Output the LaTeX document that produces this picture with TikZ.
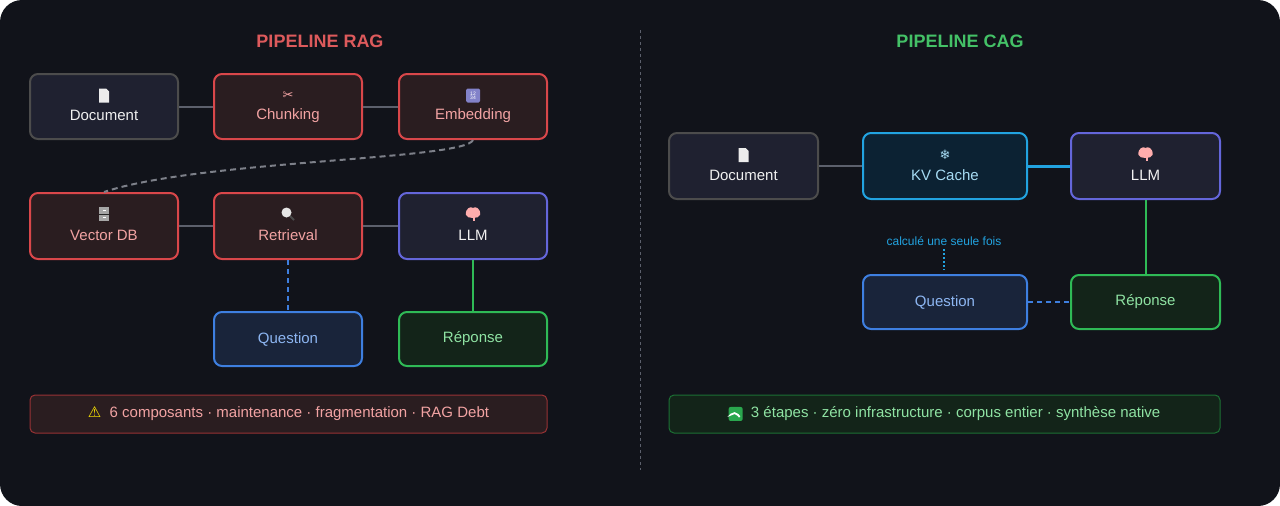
\documentclass[tikz,border=0pt]{standalone}
\usepackage{fontspec}
\setmainfont{Liberation Sans}
\newfontfamily\emo{DejaVu Sans}
\begin{document}
\begin{tikzpicture}[x=1pt,y=-1pt,
  box/.style={draw,rounded corners=8pt,line width=2pt,minimum width=148pt,align=center,font=\fontsize{15}{18}\selectfont},
  gbox/.style={box,draw=gray!60!black,fill=bgn,text=white!88!gray},
  rbox/.style={box,draw=redb,fill=redf,text=redt},
  pbox/.style={box,draw=purb,fill=bgn,text=white!90!gray},
  qbox/.style={box,draw=blub,fill=bluf,text=blut},
  abox/.style={box,draw=grnb,fill=grnf,text=grnt},
  kbox/.style={box,draw=cyab,fill=cyaf,text=cyat},
  link/.style={draw=linkc,line width=2pt},
  ico/.style={font=\emo\fontsize{13}{14}\selectfont},
  pics/idoc/.style={code={\fill[white!85!gray] (-5,-7) -- (2,-7) -- (5,-4) -- (5,7) -- (-5,7) -- cycle;}},
  pics/inum/.style={code={\fill[gray!60!blue!70!white,rounded corners=1.5pt] (-7,-7) rectangle (7,7);
     \node[text=white,font=\fontsize{5}{5}\selectfont,align=center,inner sep=0] at (0,0) {12\\[-1pt]34};}},
  pics/idb/.style={code={\fill[gray!70] (-5,-7) rectangle (5,7);\draw[gray!30!black,line width=0.8pt] (-5,0)--(5,0);
     \fill[white] (-1.5,-4) rectangle (1.5,-3); \fill[white] (-1.5,3) rectangle (1.5,4);}},
  pics/imag/.style={code={\draw[gray!60!black,line width=2pt] (2,2)--(6,6);\fill[white!80!gray] (-1.5,-1.5) circle (5);}},
  pics/ibrain/.style={code={\fill[pink!80!red!80!white] (-7,1) .. controls (-8,-6) and (-2,-8) .. (0,-6) .. controls (2,-8) and (8,-6) .. (7,1) .. controls (6,5) and (-6,5) .. (-7,1);
     \fill[pink!80!red!80!white] (0,3) rectangle (2,7);}},
  pics/icheck/.style={code={\fill[grnb!90!black,rounded corners=2pt] (-7,-7) rectangle (7,7);\draw[white,line width=1.8pt] (-4,0)--(-1,3)--(4,-3);}}]
\definecolor{bg}{HTML}{11131A}\definecolor{bgn}{HTML}{1F2130}
\definecolor{redb}{HTML}{D9474A}\definecolor{redf}{HTML}{2A1D20}\definecolor{redt}{HTML}{F2A3A3}
\definecolor{purb}{HTML}{6466DA}\definecolor{blub}{HTML}{3E7FE0}\definecolor{bluf}{HTML}{19243A}\definecolor{blut}{HTML}{8DB6F2}
\definecolor{grnb}{HTML}{2FBA56}\definecolor{grnf}{HTML}{132419}\definecolor{grnt}{HTML}{8FE3A3}
\definecolor{cyab}{HTML}{22A3E0}\definecolor{cyaf}{HTML}{0C2233}\definecolor{cyat}{HTML}{A6DBF3}
\definecolor{linkc}{HTML}{5C606C}
\fill[white] (0,0) rectangle (1280,506);
\fill[bg,rounded corners=22pt] (0,0) rectangle (1280,506);
\useasboundingbox (0,0) rectangle (1280,506);
\draw[linkc,dashed,line width=1pt] (640,30) -- (640,470);
\node[text=redb!90!white,font=\bfseries\fontsize{18}{20}\selectfont] (t1) at (320,41) {PIPELINE RAG};
\node[text=grnb!90!white,font=\bfseries\fontsize{18}{20}\selectfont] (t2) at (960,41) {PIPELINE CAG};
% left
\node[gbox,minimum height=65pt] (doc) at (104,106.5) {};
\node[rbox,minimum height=65pt] (chk) at (288,106.5) {};
\node[rbox,minimum height=65pt] (emb) at (473,106.5) {};
\node[rbox,minimum height=66pt] (vdb) at (104,226) {};
\node[rbox,minimum height=66pt] (ret) at (288,226) {};
\node[pbox,minimum height=66pt] (llm) at (473,226) {};
\node[qbox,minimum height=54pt] (q) at (288,339) {Question};
\node[abox,minimum height=54pt] (r) at (473,339) {Réponse};
\foreach \n/\t/\c in {doc/Document/white!88!gray,chk/Chunking/redt,emb/Embedding/redt,vdb/Vector DB/redt,ret/Retrieval/redt,llm/LLM/white!90!gray}{
  \node[text=\c,font=\fontsize{15}{18}\selectfont] at ([yshift=-9]\n.center) {\t};}
\pic at ([yshift=11]doc.center) {idoc};
\node[ico,text=redt] at ([yshift=11]chk.center) {✂};
\pic at ([yshift=11]emb.center) {inum};
\pic at ([yshift=12]vdb.center) {idb};
\pic at ([yshift=12]ret.center) {imag};
\pic at ([yshift=12]llm.center) {ibrain};
\draw[link] (doc) -- (chk); \draw[link] (chk) -- (emb);
\draw[link] (vdb) -- (ret); \draw[link] (ret) -- (llm);
\draw[linkc!80!white,line width=2pt,dash pattern=on 6pt off 4pt] (emb.south) .. controls (465,160) and (200,160) .. (vdb.north);
\draw[blub,line width=2pt,dash pattern=on 5pt off 4pt] (ret.south) -- (q.north);
\draw[grnb,line width=2pt] (llm.south) -- (r.north);
\node[draw=redb!70!black,fill=redf,rounded corners=5pt,line width=1pt,minimum width=517pt,minimum height=38pt,text=redt,font=\fontsize{15}{18}\selectfont] (b1) at (288.5,414) {{\emo\textcolor{yellow!90!orange}{⚠}}\ \ 6 composants · maintenance · fragmentation · RAG Debt};
% right
\node[gbox,minimum width=149pt,minimum height=66pt] (doc2) at (743.5,166) {};
\node[kbox,minimum width=164pt,minimum height=66pt] (kv) at (945,166) {};
\node[pbox,minimum width=149pt,minimum height=66pt] (llm2) at (1145.5,166) {};
\node[qbox,minimum width=164pt,minimum height=54pt] (q2) at (945,302) {Question};
\node[abox,minimum width=149pt,minimum height=54pt] (r2) at (1145.5,302) {Réponse};
\foreach \n/\t/\c in {doc2/Document/white!88!gray,kv/KV Cache/cyat,llm2/LLM/white!90!gray}{
  \node[text=\c,font=\fontsize{15}{18}\selectfont] at ([yshift=-9]\n.center) {\t};}
\pic at ([yshift=11]doc2.center) {idoc};
\node[ico,text=cyat] at ([yshift=11]kv.center) {❄};
\pic at ([yshift=12]llm2.center) {ibrain};
\draw[link] (doc2) -- (kv);
\draw[cyab,line width=3pt] (kv) -- (llm2);
\draw[grnb,line width=2pt] (llm2.south) -- (r2.north);
\draw[blub,line width=2pt,dash pattern=on 5pt off 4pt] (q2) -- (r2);
\node[text=cyab,font=\fontsize{12}{14}\selectfont] (cal) at (944,241) {calculé une seule fois};
\coordinate (c1) at (944,270);
\draw[cyab,line width=1.5pt,dash pattern=on 2pt off 2pt] (cal.south) -- (c1);
\node[draw=grnb!60!black,fill=grnf,rounded corners=5pt,line width=1pt,minimum width=551pt,minimum height=38pt,text=grnt,font=\fontsize{15}{18}\selectfont] (b2) at (944.5,414) {\tikz[baseline=-4pt,x=1pt,y=1pt]\pic{icheck};\ \ 3 étapes · zéro infrastructure · corpus entier · synthèse native};
\end{tikzpicture}
\end{document}
